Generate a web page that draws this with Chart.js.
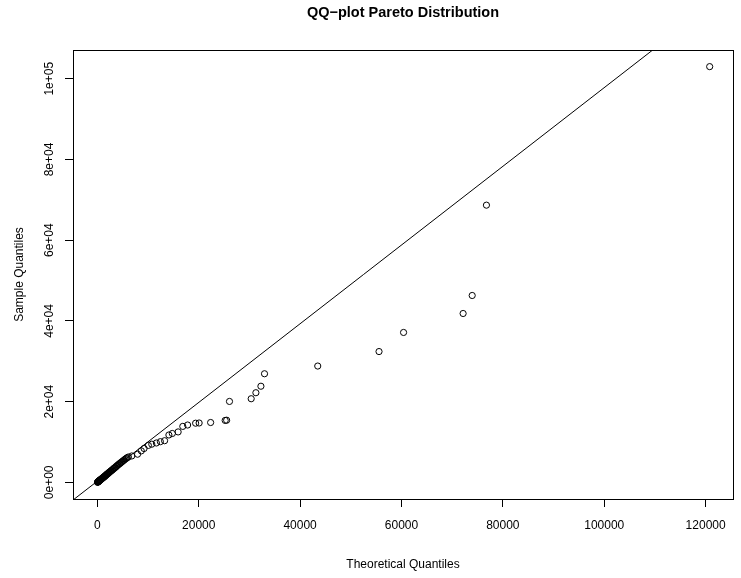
<!DOCTYPE html>
<html><head><meta charset="utf-8">
<script src="https://cdn.jsdelivr.net/npm/chart.js@4/dist/chart.umd.min.js"></script>
<style>html,body{margin:0;padding:0;background:#fff;}canvas{display:block;}</style>
</head><body>
<canvas id="c" width="741" height="578"></canvas>
<script>
// Theoretical quantiles (x) and sorted sample quantiles (y)
const theoreticalQuantiles = [
  40, 70, 95, 120, 150, 180, 210, 240, 270, 300,
  340, 380, 420, 460, 500, 550, 600, 650, 700, 760,
  820, 880, 940, 1000, 1070, 1140, 1210, 1280, 1350, 1430,
  1510, 1590, 1670, 1760, 1850, 1940, 2030, 2130, 2230, 2330,
  2440, 2550, 2660, 2780, 2900, 3020, 3150, 3280, 3410, 3550,
  3690, 3830, 3980, 4130, 4290, 4450, 4620, 4790, 4960, 5140,
  5320, 5510, 5700, 5900,
  6120, 6790, 7940, 8670, 9220, 10070, 10740, 11650, 12440, 13270,
  14120, 14790, 15940, 16860, 17810, 19390, 20080, 22350, 25220, 25510,
  26070, 30350, 31280, 32270, 32980, 43480, 55570, 60410, 72160, 73950,
  76760, 120800
];
const sampleQuantiles = [
  20, 50, 100, 120, 160, 190, 230, 260, 290, 330,
  350, 400, 430, 490, 520, 580, 630, 660, 740, 780,
  860, 900, 990, 1040, 1090, 1200, 1240, 1350, 1390, 1500,
  1540, 1680, 1720, 1880, 1920, 2060, 2150, 2200, 2380, 2420,
  2600, 2660, 2830, 2890, 3080, 3130, 3360, 3420, 3620, 3690,
  3930, 4010, 4260, 4330, 4580, 4660, 4880, 5010, 5230, 5390,
  5560, 5790, 5940, 6110,
  6290, 6540, 6980, 7800, 8390, 9160, 9460, 9760, 10080, 10320,
  11740, 12110, 12500, 13870, 14210, 14660, 14710, 14830, 15350, 15400,
  20050, 20720, 22210, 23820, 26910, 28820, 32410, 37140, 41840, 46300,
  68680, 103000
];
// Reference (qq) line end points
const refLineX = [-4800, 125400];
const refLineY = [-4380, 122565];

const xTicks = [0, 20000, 40000, 60000, 80000, 100000, 120000];
const xTickLabels = ['0', '20000', '40000', '60000', '80000', '100000', '120000'];
const yTicks = [0, 20000, 40000, 60000, 80000, 100000];
const yTickLabels = ['0e+00', '2e+04', '4e+04', '6e+04', '8e+04', '1e+05'];

const titleText = 'QQ\u2212plot Pareto Distribution';
const xTitle = 'Theoretical Quantiles';
const yTitle = 'Sample Quantiles';

const FONT = '"Liberation Sans", Arial, Helvetica, sans-serif';
Chart.defaults.font.family = FONT;
Chart.defaults.color = '#000';

const boxPlugin = {
  id: 'box',
  afterDatasetsDraw(chart) {
    const {ctx, chartArea: a} = chart;
    ctx.save();
    ctx.strokeStyle = '#000';
    ctx.lineWidth = 1;
    ctx.strokeRect(Math.round(a.left) + 0.5, Math.round(a.top) + 0.5,
      Math.round(a.right - a.left), Math.round(a.bottom - a.top));
    ctx.restore();
  }
};

const points = theoreticalQuantiles.map((x, i) => ({x: x, y: sampleQuantiles[i]}));
const line = refLineX.map((x, i) => ({x: x, y: refLineY[i]}));

new Chart(document.getElementById('c'), {
  type: 'scatter',
  data: {
    datasets: [
      {
        data: line, showLine: true, pointRadius: 0, borderColor: '#000',
        borderWidth: 1, clip: 0
      },
      {
        data: points, pointStyle: 'circle', pointRadius: 3.1, pointBorderWidth: 1,
        borderColor: '#000', backgroundColor: 'rgba(0,0,0,0)', borderWidth: 1
      }
    ]
  },
  options: {
    responsive: false,
    animation: false,
    devicePixelRatio: 1,
    layout: {padding: {left: 0, right: 8, top: 0, bottom: 0}},
    plugins: {
      legend: {display: false},
      tooltip: {enabled: false},
      title: {
        display: true, text: titleText, fullSize: false, color: '#000',
        font: {size: 14.5, weight: 'bold', family: FONT},
        padding: {top: 4, bottom: 28.6}
      }
    },
    scales: {
      x: {
        type: 'linear', position: 'bottom', min: -4800, max: 125400,
        afterBuildTicks: s => { s.ticks = xTicks.map(v => ({value: v})); },
        afterFit: s => { s.height = 79; },
        ticks: {
          callback: v => xTickLabels[xTicks.indexOf(v)],
          padding: 11, autoSkip: false, maxRotation: 0, color: '#000',
          font: {size: 12, family: FONT}
        },
        grid: {display: true, drawOnChartArea: false, drawTicks: true, tickLength: 8, tickColor: '#000', tickWidth: 1},
        border: {display: true, color: '#000', width: 1},
        title: {display: true, text: xTitle, color: '#000', font: {size: 12, family: FONT}, padding: {top: 0, bottom: 6}}
      },
      y: {
        type: 'linear', position: 'left', min: -4120, max: 107120,
        afterBuildTicks: s => { s.ticks = yTicks.map(v => ({value: v})); },
        afterFit: s => { s.width = 73; },
        ticks: {
          callback: v => yTickLabels[yTicks.indexOf(v)],
          padding: -2, autoSkip: false, minRotation: 90, maxRotation: 90,
          crossAlign: 'center', color: '#000',
          font: {size: 12, family: FONT}
        },
        grid: {display: true, drawOnChartArea: false, drawTicks: true, tickLength: 8, tickColor: '#000', tickWidth: 1},
        border: {display: true, color: '#000', width: 1},
        title: {display: true, text: yTitle, color: '#000', font: {size: 12, family: FONT}, padding: {top: 12, bottom: 0}}
      }
    }
  },
  plugins: [boxPlugin]
});
</script>
</body></html>
